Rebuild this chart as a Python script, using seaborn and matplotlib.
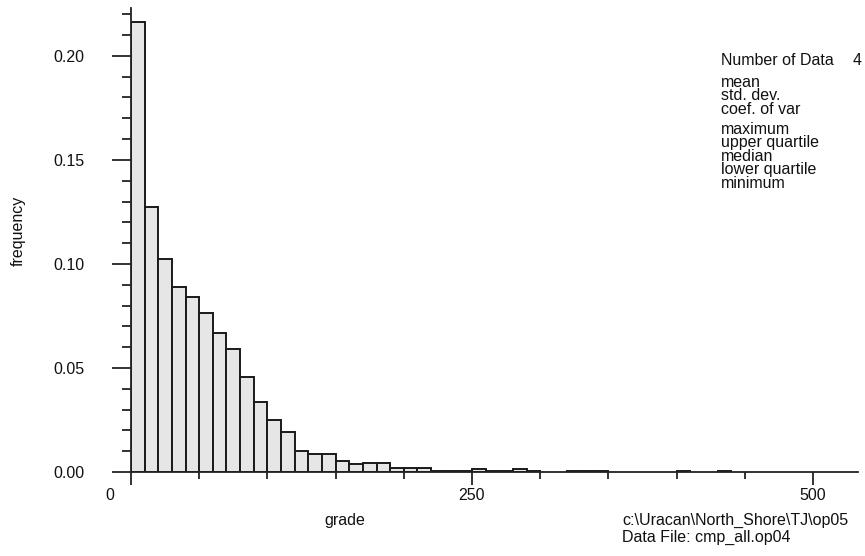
import numpy as np
import matplotlib
matplotlib.use("Agg")
import matplotlib.pyplot as plt
import seaborn as sns

# ---- data ----
bin_width = 10
bin_left = [0, 10, 20, 30, 40, 50, 60, 70, 80, 90,
            100, 110, 120, 130, 140, 150, 160, 170, 180, 190,
            200, 210, 220, 230, 240, 250, 260, 270, 280, 290,
            300, 310, 320, 330, 340, 350, 360, 370, 380, 390,
            400, 410, 420, 430, 440]
frequency = [0.2163, 0.1276, 0.1026, 0.0891, 0.0843, 0.0763, 0.0670, 0.0590, 0.0455, 0.0337,
             0.0250, 0.0194, 0.0101, 0.0085, 0.0085, 0.0052, 0.0038, 0.0045, 0.0045, 0.0021,
             0.0021, 0.0021, 0.0006, 0.0006, 0.0006, 0.0014, 0.0006, 0.0006, 0.0014, 0.0006,
             0.0, 0.0, 0.0006, 0.0006, 0.0006, 0.0, 0.0, 0.0, 0.0, 0.0,
             0.0006, 0.0, 0.0, 0.0006, 0.0]
x_major_ticks = [0, 250, 500]
x_tick_labels = ["", "250", "500"]
y_major_ticks = [0.00, 0.05, 0.10, 0.15, 0.20]
y_tick_labels = ["0.00", "0.05", "0.10", "0.15", "0.20"]
stat_labels_1 = ["mean", "std. dev.", "coef. of var"]
stat_labels_2 = ["maximum", "upper quartile", "median", "lower quartile", "minimum"]
n_data_label = "Number of Data"
n_data_value = "4"
footer_lines = [r"c:\Uracan\North_Shore\TJ\op05", "Data File: cmp_all.op04"]

# ---- figure ----
sns.set_style("ticks")
plt.rcParams["font.family"] = ["Liberation Sans", "DejaVu Sans"]
FS = 11.5
W, H = 865, 556
fig = plt.figure(figsize=(W / 100, H / 100), dpi=100)
ax_l, ax_r, ax_t, ax_b = 131, 858, 8, 472
ax = fig.add_axes([ax_l / W, 1 - ax_b / H, (ax_r - ax_l) / W, (ax_b - ax_t) / H])

df_x = np.array(bin_left) + bin_width / 2
edges = list(bin_left) + [bin_left[-1] + bin_width]
sns.histplot(x=df_x, weights=frequency, bins=edges, stat="count",
             color="#e6e6e6", edgecolor="#1a1a1a", linewidth=1.4, alpha=1, ax=ax)
for p in list(ax.patches):
    if p.get_height() <= 0:
        p.remove()

ax.set_xlim(0, 533)
ax.set_ylim(0, 0.223)
sns.despine(ax=ax)
for s in ["left", "bottom"]:
    ax.spines[s].set_color("#222222")
    ax.spines[s].set_linewidth(1.3)

ax.set_xticks(x_major_ticks)
ax.set_xticklabels(x_tick_labels)
ax.set_xticks(np.arange(0, 533, 50), minor=True)
ax.set_yticks(y_major_ticks)
ax.set_yticklabels(y_tick_labels)
ax.set_yticks(np.arange(0, 0.2201, 0.01), minor=True)

tc = "#111111"
ax.tick_params(axis="y", which="major", length=13.7, width=1.3, pad=20, color="#222222",
               labelsize=FS, labelcolor=tc, direction="out")
ax.tick_params(axis="y", which="minor", length=6.8, width=1.3, color="#222222", direction="out")
ax.tick_params(axis="x", which="major", length=9.4, width=1.3, pad=2.2, color="#222222",
               labelsize=FS, labelcolor=tc, direction="out")
ax.tick_params(axis="x", which="minor", length=4.8, width=1.3, color="#222222", direction="out")

ax.annotate("0", xy=(0, 0), xycoords="data", xytext=(-21, -23), textcoords="offset pixels",
            ha="center", va="center", fontsize=FS, color=tc)

ax.set_xlabel("grade", fontsize=FS, color=tc)
ax.xaxis.label.set_va("center")
ax.xaxis.set_label_coords((345 - ax_l) / (ax_r - ax_l), (ax_b - 521) / (ax_b - ax_t))
ax.set_ylabel("frequency", fontsize=FS, color=tc)
ax.yaxis.label.set_va("center")
ax.yaxis.set_label_coords((18 - ax_l) / (ax_r - ax_l), (ax_b - 231) / (ax_b - ax_t))

# statistics block
tx = 721 / W
fig.text(tx, 1 - 65 / H, n_data_label, fontsize=FS, color=tc, va="baseline", ha="left")
fig.text(853 / W, 1 - 65 / H, n_data_value, fontsize=FS, color=tc, va="baseline", ha="left")
y0 = 87
for i, s in enumerate(stat_labels_1):
    fig.text(tx, 1 - (y0 + 13.5 * i) / H, s, fontsize=FS, color=tc, va="baseline", ha="left")
y1 = 134
for i, s in enumerate(stat_labels_2):
    fig.text(tx, 1 - (y1 + 13.5 * i) / H, s, fontsize=FS, color=tc, va="baseline", ha="left")

# footer
for i, s in enumerate(footer_lines):
    fig.text(622 / W, 1 - (520 + 17 * i) / H, s, fontsize=FS, color=tc, va="center", ha="left")

fig.savefig("out.png", dpi=100, facecolor="white")
